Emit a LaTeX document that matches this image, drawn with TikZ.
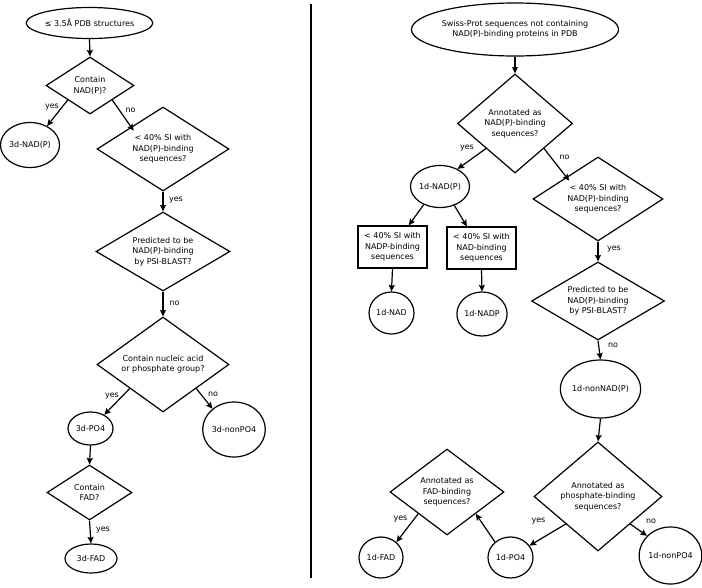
\documentclass[tikz,border=0pt]{standalone}
\usepackage{fontspec}
\setmainfont{DejaVu Sans}
\usetikzlibrary{shapes.geometric,arrows.meta}
\begin{document}
\begin{tikzpicture}[x=1pt,y=-1pt,
  every node/.style={font=\fontsize{8}{10.5}\selectfont, align=center, inner sep=0pt},
  shp/.style={draw, line width=1.2pt},
  oval/.style={shp, ellipse},
  dia/.style={shp, diamond},
  boxx/.style={shp, rectangle},
  arr/.style={line width=1.2pt, -{Stealth[length=6.5pt,width=6pt,inset=1pt]}},
  lbl/.style={font=\fontsize{8}{10}\selectfont}]
\useasboundingbox (0,0) rectangle (702,587);
% divider
\draw[line width=1.3pt] (311,4) coordinate (dtop) -- (311,578) coordinate (dbot);

% ---------- left ----------
\node[oval, minimum width=125pt, minimum height=31pt] (s0) at (89.5,23) {≤ 3.5Å PDB structures};
\node[dia, minimum width=88pt, minimum height=57pt, aspect=1.54] (d1) at (90,85.5) {Contain\\NAD(P)?};
\node[oval, minimum width=53pt, minimum height=45pt] (c1) at (30,145) {3d-NAD(P)};
\node[dia, minimum width=132pt, minimum height=84pt, aspect=1.57] (d2) at (163,149) {< 40\% SI with\\NAD(P)-binding\\sequences?};
\node[dia, minimum width=134pt, minimum height=79pt, aspect=1.7] (d3) at (163,251.5) {Predicted to be\\NAD(P)-binding\\by PSI-BLAST?};
\node[dia, minimum width=132pt, minimum height=95pt, aspect=1.39] (d4) at (163,364.5) {Contain nucleic acid\\or phosphate group?};
\node[oval, minimum width=45pt, minimum height=33pt] (c2) at (90.5,428.5) {3d-PO4};
\node[oval, minimum width=58pt, minimum height=55pt] (c3) at (234,429.5) {3d-nonPO4};
\node[dia, minimum width=85pt, minimum height=55pt, aspect=1.55] (d5) at (89.5,492.5) {Contain\\FAD?};
\node[oval, minimum width=52pt, minimum height=29pt] (c4) at (91,558.5) {3d-FAD};

\draw[arr] (s0.south) -- (d1.north);
\draw[arr] (d1.south west) -- (c1.48);
\draw[arr] (d1.south east) -- ([shift={(4pt,-3pt)}]d2.north west);
\draw[arr] (d2.south) -- (d3.north);
\draw[arr] (d3.south) -- (d4.north);
\draw[arr] (d4.south west) -- (c2.45);
\draw[arr] (d4.south east) -- (c3.136);
\draw[arr] (c2.south) -- (d5.north);
\draw[arr] (d5.south) -- (c4.north);

\node[lbl] (l1) at (52,107.5) {yes};
\node[lbl] (l2) at (130.5,110) {no};
\node[lbl] (l3) at (176,200.5) {yes};
\node[lbl] (l4) at (174.5,303) {no};
\node[lbl] (l5) at (112,396) {yes};
\node[lbl] (l6) at (213,394) {no};
\node[lbl] (l7) at (103,530) {yes};

% ---------- right ----------
\node[oval, minimum width=184pt, minimum height=53pt] (r0) at (515,29.5) {Swiss-Prot sequences not containing\\NAD(P)-binding proteins in PDB};
\node[dia, minimum width=115pt, minimum height=99pt, aspect=1.16] (a1) at (515,123.5) {Annotated as\\NAD(P)-binding\\sequences?};
\node[oval, minimum width=55pt, minimum height=42pt] (n0) at (440,186.5) {1d-NAD(P)};
\node[dia, minimum width=130pt, minimum height=84pt, aspect=1.55] (b1) at (598,199) {< 40\% SI with\\NAD(P)-binding\\sequences?};
\node[dia, minimum width=133pt, minimum height=78pt, aspect=1.7] (b2) at (598,301) {Predicted to be\\NAD(P)-binding\\by PSI-BLAST?};
\node[oval, minimum width=69pt, minimum height=58pt] (n1) at (600.5,389) {1d-nonNAD(P)};
\node[dia, minimum width=128pt, minimum height=109pt, aspect=1.17] (p1) at (598,496.5) {Annotated as\\phosphate-binding\\sequences?};
\node[oval, minimum width=45pt, minimum height=41pt] (n2) at (510.5,557.5) {1d-PO4};
\node[oval, minimum width=57pt, minimum height=57pt] (n3) at (670.5,555.5) {1d-nonPO4};
\node[dia, minimum width=114pt, minimum height=86pt, aspect=1.33] (f1) at (447,492) {Annotated as\\FAD-binding\\sequences?};
\node[oval, minimum width=44pt, minimum height=41pt] (n4) at (381,557.5) {1d-FAD};
\node[boxx, minimum width=69pt, minimum height=42pt] (bx1) at (392.5,247) {< 40\% SI with\\NADP-binding\\sequences};
\node[boxx, minimum width=69pt, minimum height=42pt] (bx2) at (481.5,248) {< 40\% SI with\\NAD-binding\\sequences};
\node[oval, minimum width=45pt, minimum height=42pt] (n5) at (391.5,313) {1d-NAD};
\node[oval, minimum width=50pt, minimum height=44pt] (n6) at (482,314) {1d-NADP};

\draw[arr] (r0.south) -- (a1.north);
\draw[arr] (a1.south west) -- (n0.45);
\draw[arr] (a1.south east) -- ([shift={(4pt,-3pt)}]b1.north west);
\draw[arr] (b1.south) -- (b2.north);
\draw[arr] (b2.south) -- (n1.north);
\draw[arr] (n1.south) -- (p1.north);
\draw[arr] (p1.south west) -- (n2.32);
\draw[arr] (p1.south east) -- (n3.140);
\draw[arr] (n2.135) -- (f1.south east);
\draw[arr] (f1.south west) -- (n4.45);
\draw[arr] (n0.228) -- (bx1.53);
\draw[arr] (n0.307) -- (bx2.124);
\draw[arr] (bx1.south) -- (n5.north);
\draw[arr] (bx2.south) -- (n6.north);

\node[lbl] (m1) at (467,148) {yes};
\node[lbl] (m2) at (564.5,157) {no};
\node[lbl] (m3) at (614,249.5) {yes};
\node[lbl] (m4) at (613,345) {no};
\node[lbl] (m5) at (538.5,521) {yes};
\node[lbl] (m6) at (651,521.5) {no};
\node[lbl] (m7) at (400.5,519) {yes};
\end{tikzpicture}
\end{document}
